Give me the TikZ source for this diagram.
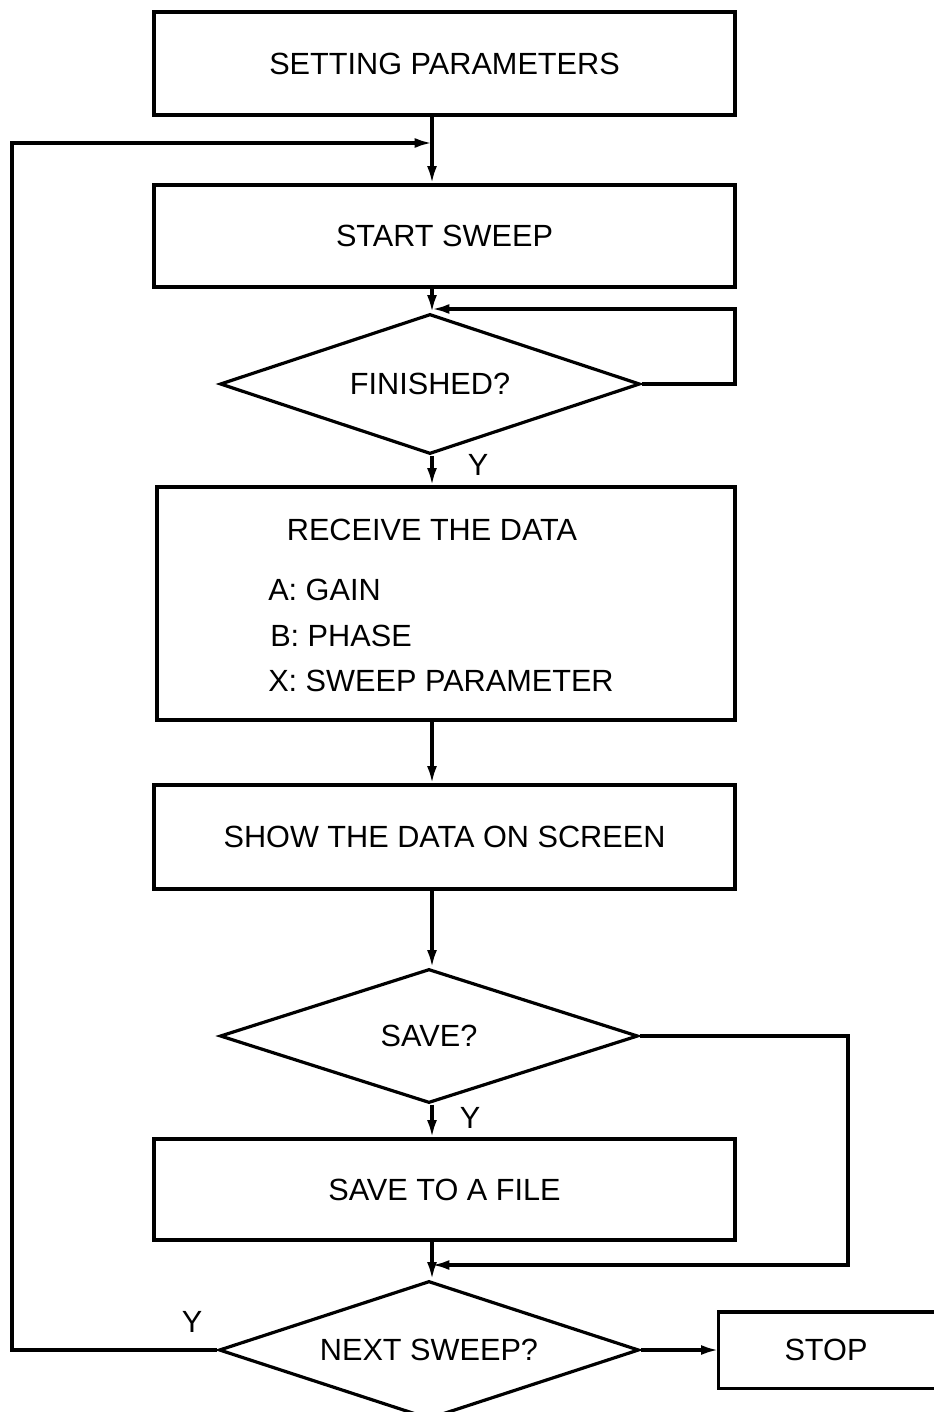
\documentclass[tikz,border=0pt]{standalone}
\usepackage{fontspec}
\setmainfont{Liberation Sans}
\usetikzlibrary{shapes.geometric,arrows.meta}
\begin{document}
\begin{tikzpicture}[x=0.75pt,y=-0.75pt,
  every node/.style={font=\fontsize{23}{27}\selectfont},
  box/.style={draw,line width=2.4pt,rectangle,inner sep=0pt},
  dec/.style={draw,line width=2.4pt,diamond,inner sep=0pt,aspect=3},
  conn/.style={line width=2.4pt,-{Latex[length=13pt,width=7.5pt]}},
  wire/.style={line width=2.4pt},
  lbl/.style={inner sep=0pt}]
\useasboundingbox (0,0) rectangle (934,1412);

% nodes
\node[box,minimum width={581*0.75pt},minimum height={103*0.75pt}] (sp) at (444.5,63.5) {SETTING PARAMETERS};
\node[box,minimum width={581*0.75pt},minimum height={102*0.75pt}] (ss) at (444.5,236) {START SWEEP};
\node[dec,minimum width={420*0.75pt},minimum height={140*0.75pt}] (fin) at (430,384) {FINISHED?};
\node[box,minimum width={578*0.75pt},minimum height={233*0.75pt}] (rd) at (446,603.5) {};
\node[lbl] (rdt) at (432,530) {RECEIVE THE DATA};
\node[lbl,anchor=west] (rda) at (268,590) {A: GAIN};
\node[lbl,anchor=west] (rdb) at (270,636) {B: PHASE};
\node[lbl,anchor=west] (rdx) at (268,681) {X: SWEEP PARAMETER};
\node[box,minimum width={581*0.75pt},minimum height={104*0.75pt}] (show) at (444.5,837) {SHOW THE DATA ON SCREEN};
\node[dec,minimum width={418*0.75pt},minimum height={134*0.75pt}] (save) at (429,1036) {SAVE?};
\node[box,minimum width={581*0.75pt},minimum height={101*0.75pt}] (file) at (444.5,1189.5) {SAVE TO A FILE};
\node[dec,minimum width={420*0.75pt},minimum height={138*0.75pt}] (next) at (429,1350) {NEXT SWEEP?};
\node[lbl,minimum width={212*0.75pt},minimum height={73*0.75pt},line width=2.4pt] (stop) at (826,1350) {STOP};
\draw[wire] (stop.north west) rectangle ([xshift=40pt]stop.south east);

% labels
\node[lbl] (y1) at (478,465) {Y};
\node[lbl] (y2) at (470,1118) {Y};
\node[lbl] (y3) at (192,1322) {Y};

% junction points
\coordinate (j1) at (432,143);
\coordinate (j2) at (432,309);
\coordinate (j3) at (432,1265);

% connectors
\draw[conn] (sp.south -| j1) -- (ss.north -| j1);
\draw[conn] (next.west) -- (12,1350) -- (12,143) -- (j1);
\draw[conn] (ss.south -| j2) -- (fin.north -| j2);
\draw[conn] (fin.east) -- (735,384) -- (735,309) -- (j2);
\draw[conn] (fin.south -| j2) -- (rd.north -| j2);
\draw[conn] (rd.south -| j2) -- (show.north -| j2);
\draw[conn] (show.south -| j2) -- (save.north -| j2);
\draw[conn] (save.south -| j2) -- (file.north -| j2);
\draw[conn] (save.east) -- (848,1036) -- (848,1265) -- (j3);
\draw[conn] (file.south -| j3) -- (next.north -| j3);
\draw[conn] (next.east) -- (next.east -| stop.west);
\end{tikzpicture}
\end{document}
